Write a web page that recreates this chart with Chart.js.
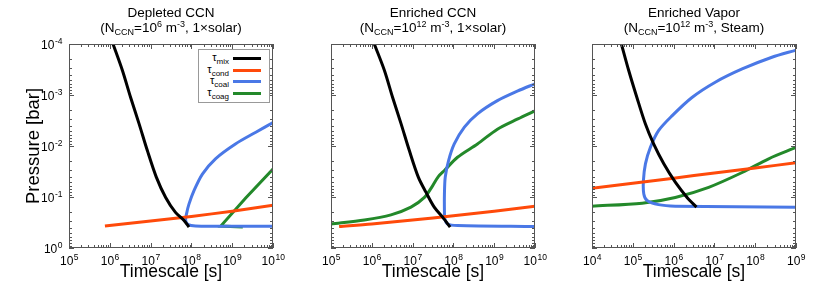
<!DOCTYPE html>
<html>
<head>
<meta charset="utf-8">
<script src="https://cdn.jsdelivr.net/npm/chart.js@4.4.1/dist/chart.umd.min.js"></script>
<style>
body{margin:0;background:#fff;width:830px;height:291px;overflow:hidden;position:relative;font-family:'Liberation Sans',Arial,sans-serif;}
.panel{position:absolute;top:0;width:300px;height:291px;}
.ttl{position:absolute;top:5px;width:220px;text-align:center;font-size:13.5px;font-weight:normal;line-height:15px;color:#000;}
sub,sup{font-size:9px;line-height:0;position:relative;vertical-align:baseline;}
sub{top:3px}
sup{top:-5px}
#legend{position:absolute;left:198px;top:49px;width:72px;height:54px;box-sizing:border-box;border:1px solid #999;background:#fff;padding-top:3px;}
#legend .row{position:relative;height:11.7px;font-size:11px;line-height:11px;}
#legend .lab{position:absolute;right:40px;top:-1px;white-space:nowrap;}
#legend .lab sub{font-size:8px;top:3px;}
#legend .smp{position:absolute;left:34px;top:4px;width:28px;height:3px;}
</style>
</head>
<body>
<div class="panel" style="left:0px"><canvas id="c1" width="300" height="291"></canvas></div>
<div class="panel" style="left:262px"><canvas id="c2" width="300" height="291"></canvas></div>
<div class="panel" style="left:523px"><canvas id="c3" width="300" height="291"></canvas></div>
<div class="ttl" style="left:61px">Depleted CCN<br>(N<sub>CCN</sub>=10<sup>6</sup> m<sup>-3</sup>, 1×solar)</div>
<div class="ttl" style="left:323px">Enriched CCN<br>(N<sub>CCN</sub>=10<sup>12</sup> m<sup>-3</sup>, 1×solar)</div>
<div class="ttl" style="left:584px">Enriched Vapor<br>(N<sub>CCN</sub>=10<sup>12</sup> m<sup>-3</sup>, Steam)</div>
<div id="legend"></div>
<script>
// timescale names + colours
let names = ['mix','cond','coal','coag'];
let colors = ['#000000','#ff4a0a','#4a78e6','#23892a'];

// panel 1 - depleted CCN  [timescale s, pressure bar]
let depMix = [[1.2e6,1e-4],[2.04e6,3.31e-4],[3.24e6,1.12e-3],[5.25e6,3.72e-3],[8.32e6,1.23e-2],[1.38e7,4.07e-2],[2.34e7,0.102],[4.07e7,0.2],[6.61e7,0.288],[8.71e7,0.389]];
let depCond = [[7.6e5,0.372],[1e7,0.295],[1e8,0.24],[1e9,0.19],[1e10,0.145]];
let depCoal = [[1e10,3.47e-3],[3.8e9,5.37e-3],[1.2e9,9.12e-3],[3.89e8,1.78e-2],[1.86e8,3.55e-2],[1.15e8,7.59e-2],[8.71e7,0.138],[7.59e7,0.214],[7.24e7,0.288],[8.32e7,0.347],[1.26e8,0.372],[4.79e8,0.376],[1e10,0.376]];
let depCoag = [[1.82e9,0.389],[5.25e8,0.372],[2.14e9,0.105],[1e10,2.82e-2]];

// panel 2 - enriched CCN
let ccnMix = [[1.15e6,1e-4],[2.04e6,3.31e-4],[3.24e6,1.12e-3],[5.25e6,3.72e-3],[8.32e6,1.23e-2],[1.38e7,4.07e-2],[2.14e7,8.13e-2],[3.39e7,0.158],[5.5e7,0.251],[8.32e7,0.389]];
let ccnCond = [[1.58e5,0.38],[1e6,0.339],[1e7,0.282],[1e8,0.234],[1e9,0.19],[1e10,0.151]];
let ccnCoal = [[1e10,6.03e-4],[3.8e9,8.32e-4],[1.2e9,1.29e-3],[3.89e8,2.34e-3],[1.86e8,4.27e-3],[1.05e8,9.12e-3],[7.59e7,1.95e-2],[6.31e7,4.07e-2],[6.03e7,8.71e-2],[6.03e7,0.186],[6.17e7,0.269],[7.24e7,0.339],[1.26e8,0.363],[1e10,0.38]];
let ccnCoag = [[1e5,0.339],[6.61e5,0.282],[2.95e6,0.224],[9.12e6,0.158],[1.95e7,0.102],[3.09e7,6.03e-2],[4.27e7,3.98e-2],[6.03e7,3.02e-2],[1.26e8,1.66e-2],[3.89e8,9.12e-3],[1.2e9,4.68e-3],[3.8e9,2.95e-3],[1e10,2.04e-3]];

// panel 3 - enriched vapor
let vapMix = [[5.25e4,1e-4],[7.94e4,3.31e-4],[1.26e5,1.12e-3],[2.04e5,3.72e-3],[3.24e5,9.12e-3],[5.75e5,2.24e-2],[1.1e6,5.13e-2],[2.14e6,0.102],[3.63e6,0.158]];
let vapCond = [[1e4,6.76e-2],[1e5,5.37e-2],[1e6,4.27e-2],[1e7,3.39e-2],[1e8,2.69e-2],[1e9,2.14e-2]];
let vapCoal = [[1e9,1.32e-4],[2.57e8,1.82e-4],[4.79e7,3.09e-4],[1.05e7,5.62e-4],[2.82e6,1.12e-3],[9.12e5,2.57e-3],[4.27e5,5.01e-3],[2.69e5,1.07e-2],[2.04e5,2.24e-2],[1.82e5,4.79e-2],[1.86e5,8.71e-2],[2.24e5,0.117],[4.27e5,0.141],[1.1e6,0.151],[1e9,0.158]];
let vapCoag = [[1e4,0.151],[1.7e5,0.132],[1.1e6,0.102],[7.24e6,6.46e-2],[4.79e7,3.31e-2],[2.14e8,1.78e-2],[1e9,1.07e-2]];

function isMajor(v){ let l=Math.log10(v); return Math.abs(l-Math.round(l))<1e-6; }
function expOf(v){ return String(Math.round(Math.log10(v))); }
function logTicks(min,max){
  let out=[];
  let e0=Math.round(Math.log10(min)), e1=Math.round(Math.log10(max));
  for(let e=e0;e<e1;e++){
    for(let m=1;m<10;m++) out.push({value:m*Math.pow(10,e)});
  }
  out.push({value:max});
  return out;
}

// draw "10" with a raised exponent
function drawPow(ctx, v, x, y, align){
  let base='10', ex=expOf(v);
  ctx.font="12px 'Liberation Sans', Arial, sans-serif";
  let w1=ctx.measureText(base).width;
  ctx.font="8.5px 'Liberation Sans', Arial, sans-serif";
  let w2=ctx.measureText(ex).width;
  let x0 = align==='right' ? x-w1-w2 : x-(w1+w2)/2;
  ctx.textAlign='left';
  ctx.textBaseline='alphabetic';
  ctx.font="12px 'Liberation Sans', Arial, sans-serif";
  ctx.fillText(base,x0,y);
  ctx.font="8.5px 'Liberation Sans', Arial, sans-serif";
  ctx.fillText(ex,x0+w1+0.5,y-4.5);
}

// frame, inward ticks on all four sides, power-of-ten labels
const framePlugin = {
  id:'frame',
  afterDatasetsDraw(chart, args, opts){
    const {ctx, chartArea:a, scales:{x,y}} = chart;
    ctx.save();
    ctx.strokeStyle='#555';
    ctx.lineWidth=1;
    ctx.beginPath();
    x.ticks.forEach(t=>{
      let px=Math.round(x.getPixelForValue(t.value))+0.5;
      let len=isMajor(t.value)?5:3;
      ctx.moveTo(px,a.bottom); ctx.lineTo(px,a.bottom-len);
      ctx.moveTo(px,a.top); ctx.lineTo(px,a.top+len);
    });
    y.ticks.forEach(t=>{
      let py=Math.round(y.getPixelForValue(t.value))+0.5;
      let len=isMajor(t.value)?5:3;
      ctx.moveTo(a.left,py); ctx.lineTo(a.left+len,py);
      ctx.moveTo(a.right,py); ctx.lineTo(a.right-len,py);
    });
    ctx.stroke();
    ctx.strokeRect(Math.round(a.left)+0.5, Math.round(a.top)+0.5, Math.round(a.right-a.left)-1, Math.round(a.bottom-a.top)-1);
    ctx.fillStyle='#000';
    x.ticks.filter(t=>isMajor(t.value)).forEach(t=>{
      drawPow(ctx, t.value, x.getPixelForValue(t.value), a.bottom+16.5, 'center');
    });
    if(opts.showY){
      y.ticks.filter(t=>isMajor(t.value)).forEach(t=>{
        drawPow(ctx, t.value, a.left-7, y.getPixelForValue(t.value)+4.5, 'right');
      });
    }
    ctx.restore();
  }
};

Chart.defaults.font.family = "'Liberation Sans', Arial, sans-serif";
Chart.defaults.color = '#000';

function makeChart(id, series, tensions, xmin, xmax, showY){
  let ctx = document.getElementById(id).getContext('2d');
  return new Chart(ctx, {
    type:'scatter',
    data:{
      datasets: series.map((s,i)=>({
        label:'τ'+names[i],
        data:s.map(d=>({x:d[0],y:d[1]})),
        borderColor:colors[i],
        backgroundColor:colors[i],
        borderWidth:3,
        showLine:true,
        pointRadius:0,
        tension:tensions[i],
        borderCapStyle:'butt'
      }))
    },
    options:{
      responsive:false,
      animation:false,
      layout:{padding:{left:0,top:44,right:27,bottom:0}},
      plugins:{legend:{display:false},tooltip:{enabled:false},frame:{showY:showY}},
      scales:{
        x:{
          type:'logarithmic', min:xmin, max:xmax,
          afterBuildTicks(scale){ scale.ticks = logTicks(xmin,xmax); },
          afterFit(scale){ scale.height = 43; },
          grid:{display:false, drawTicks:false},
          border:{display:false},
          ticks:{display:false},
          title:{display:true, text:'Timescale [s]', font:{size:17.5}, padding:{top:0,bottom:8}}
        },
        y:{
          type:'logarithmic', min:1e-4, max:1, reverse:true,
          afterBuildTicks(scale){ scale.ticks = logTicks(1e-4,1); },
          afterFit(scale){ scale.width = 69; },
          grid:{display:false, drawTicks:false},
          border:{display:false},
          ticks:{display:false},
          title:{display:showY, text:'Pressure [bar]', font:{size:18.5}, padding:{top:23,bottom:0}}
        }
      }
    },
    plugins:[framePlugin]
  });
}

let chart1 = makeChart('c1', [depMix, depCond, depCoal, depCoag], [0.3,0.3,0.3,0], 1e5, 1e10, true);
let chart2 = makeChart('c2', [ccnMix, ccnCond, ccnCoal, ccnCoag], [0.3,0.3,0.3,0.3], 1e5, 1e10, false);
let chart3 = makeChart('c3', [vapMix, vapCond, vapCoal, vapCoag], [0.3,0.3,0.3,0.3], 1e4, 1e9, false);

// legend built from the series names / colours
document.getElementById('legend').innerHTML = names.map((n,i)=>
  '<div class="row"><span class="lab">τ<sub>'+n+'</sub></span><span class="smp" style="background:'+colors[i]+'"></span></div>'
).join('');
</script>
</body>
</html>
